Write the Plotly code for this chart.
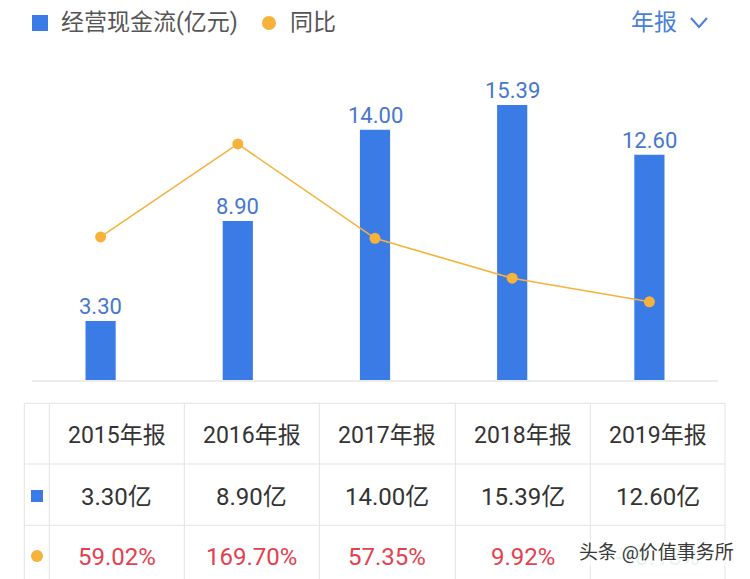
import plotly.graph_objects as go

W, H = 750, 579

categories = ["2015年报", "2016年报", "2017年报", "2018年报", "2019年报"]
cash_flow = [3.30, 8.90, 14.00, 15.39, 12.60]
yoy_pct = [59.02, 169.70, 57.35, 9.92, -18.13]
value_labels = ["3.30亿", "8.90亿", "14.00亿", "15.39亿", "12.60亿"]
pct_labels = ["59.02%", "169.70%", "57.35%", "9.92%", "-18.13%"]

BLUE = "#3A7BE6"
LABEL_BLUE = "#4677CF"
ORANGE = "#F7B23B"
RED = "#E5404F"
GREEN = "#2BB37A"
FONT = "Roboto, Noto Sans CJK SC, sans-serif"


def px(x):
    return x / W


def py(y):
    return 1 - y / H


fig = go.Figure()
fig.add_trace(go.Bar(
    x=categories, y=cash_flow, marker=dict(color=BLUE, line=dict(width=0)),
    width=0.22, hoverinfo="skip", showlegend=False,
))
fig.add_trace(go.Scatter(
    x=categories, y=yoy_pct, yaxis="y2", mode="lines+markers",
    line=dict(color=ORANGE, width=1.6), marker=dict(color=ORANGE, size=11),
    hoverinfo="skip", showlegend=False,
))

annotations = []
# bar value labels
for c, v in zip(categories, cash_flow):
    annotations.append(dict(
        x=c, y=v, xref="x", yref="y", text=f"{v:.2f}", showarrow=False,
        xanchor="center", yanchor="bottom", yshift=0,
        font=dict(family=FONT, size=22, color=LABEL_BLUE),
    ))


def note(x, y, text, size, color, xanchor="center", **kw):
    annotations.append(dict(x=px(x), y=py(y), xref="paper", yref="paper",
                            xanchor=xanchor, yanchor="middle", text=text,
                            showarrow=False, font=dict(family=FONT, size=size, color=color),
                            **kw))


# legend
note(59, 23, "经营现金流(亿元)", 23, "#555555", xanchor="left")
note(288, 23, "同比", 23, "#555555", xanchor="left")
note(629, 23, "年报", 23, "#4A80D8", xanchor="left")

# table text
col_edges = [24.3, 49.3, 184.3, 319.3, 455.3, 590.3, 725]
row_edges = [403.3, 464, 525.3]
row_centers = [435, 496.5, 556.5]
col_centers = [(col_edges[i + 1] + col_edges[i + 2]) / 2 for i in range(5)]
for i, cx in enumerate(col_centers):
    note(cx, row_centers[0], categories[i], 23, "#333333")
    note(cx, row_centers[1], value_labels[i], 24, "#333333")
    if yoy_pct[i] >= 0:
        note(cx, row_centers[2], pct_labels[i], 24, RED)
    else:
        note(cx, row_centers[2], pct_labels[i], 24, GREEN, opacity=0.3)

# watermark
note(736, 552, "头条 @价值事务所", 19, "#3a3a3a", xanchor="right",
     bgcolor="rgba(255,255,255,0.6)")

shapes = []
# legend markers
shapes.append(dict(type="rect", xref="paper", yref="paper", x0=px(32), x1=px(48),
                   y0=py(31), y1=py(15), fillcolor=BLUE, line=dict(width=0)))
shapes.append(dict(type="circle", xref="paper", yref="paper", x0=px(262), x1=px(276),
                   y0=py(30), y1=py(16), fillcolor=ORANGE, line=dict(width=0)))
# chevron
shapes.append(dict(type="path", xref="paper", yref="paper",
                   path=f"M {px(691)} {py(18)} L {px(699)} {py(27)} L {px(707)} {py(18)}",
                   line=dict(color="#4A80D8", width=2)))
# table grid
for x in col_edges:
    shapes.append(dict(type="line", xref="paper", yref="paper", x0=px(x), x1=px(x),
                       y0=py(row_edges[0]), y1=0, line=dict(color="#E3E3E3", width=1)))
for y in row_edges:
    shapes.append(dict(type="line", xref="paper", yref="paper", x0=px(col_edges[0]),
                       x1=px(col_edges[-1]), y0=py(y), y1=py(y),
                       line=dict(color="#E3E3E3", width=1)))
# table row markers
shapes.append(dict(type="rect", xref="paper", yref="paper", x0=px(31), x1=px(43),
                   y0=py(502), y1=py(490), fillcolor=BLUE, line=dict(width=0)))
shapes.append(dict(type="circle", xref="paper", yref="paper", x0=px(31), x1=px(43),
                   y0=py(562), y1=py(550), fillcolor=ORANGE, line=dict(width=0)))

fig.update_layout(
    width=W, height=H, margin=dict(l=0, r=0, t=0, b=0),
    paper_bgcolor="white", plot_bgcolor="white",
    xaxis=dict(domain=[px(32), px(718)], range=[-0.5, 4.5], showticklabels=False,
               showgrid=False, zeroline=False, showline=True, linecolor="#EDEDED",
               linewidth=2, ticks="", fixedrange=True),
    yaxis=dict(domain=[py(380), py(60)], range=[0, 17.91], visible=False, fixedrange=True),
    yaxis2=dict(overlaying="y", range=[-111.2, 269.6], visible=False, fixedrange=True),
    annotations=annotations, shapes=shapes, showlegend=False,
)

fig.write_html("out.html", config={"displayModeBar": False},
               post_script="document.body.style.margin='0';")
